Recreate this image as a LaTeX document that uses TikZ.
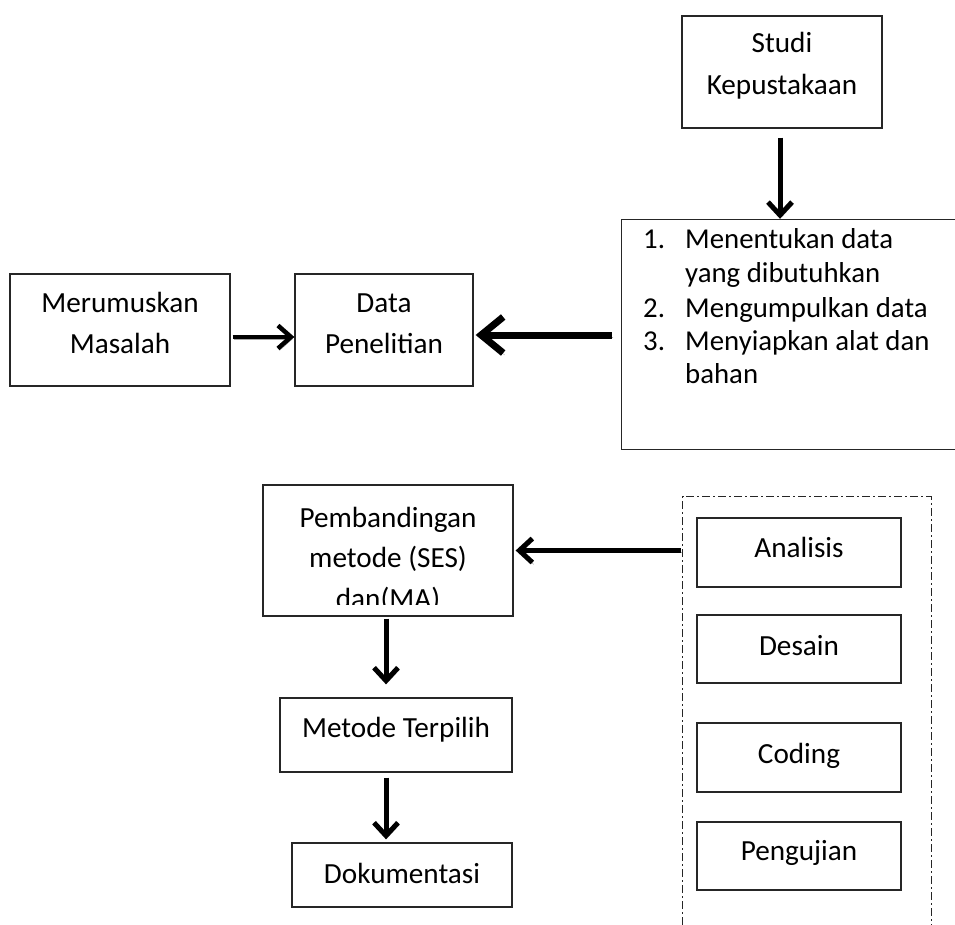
\documentclass[tikz,border=0pt]{standalone}
\usepackage{fontspec}
\setmainfont{Carlito}
\usetikzlibrary{arrows.meta}
\begin{document}
\begin{tikzpicture}[x=1pt,y=-1pt,
  box/.style={draw=black!85, line width=1.3pt, inner sep=0pt},
  boxline/.style={draw=black!85, line width=1.3pt},
  frameline/.style={draw=black!85, line width=1.2pt, dash pattern=on 8pt off 3pt on 2pt off 3pt},
  txt/.style={anchor=base, inner sep=0pt, font=\fontsize{29.2}{34}\selectfont},
  ltxt/.style={anchor=base west, inner sep=0pt, font=\fontsize{28.8}{34}\selectfont},
  shadowed/.style={preaction={draw=black!35, transform canvas={shift={(1.5pt,-2pt)}}}},
  arr/.style={line width=5pt, shadowed, -{Straight Barb[length=13pt,width=24pt]}},
  bigarr/.style={line width=7pt, shadowed, -{Straight Barb[length=22pt,width=36pt]}}
]
\useasboundingbox (0,0) rectangle (955,925);

% boxes
\node[box, minimum width=200, minimum height=112] (studi) at (782,72) {};
\node[box, minimum width=220, minimum height=112] (mm) at (120,330) {};
\node[box, minimum width=178, minimum height=112] (dp) at (384,330) {};
\node[inner sep=0pt, minimum width=333, minimum height=229] (list) at (788.5,334.5) {};
\draw[boxline] (list.north east) -- (list.north west) -- (list.south west) -- (list.south east);
\node[box, minimum width=250, minimum height=131] (pb) at (388,550.5) {};
\node[box, minimum width=232, minimum height=74] (mt) at (396,735) {};
\node[box, minimum width=220, minimum height=64] (dok) at (402,875) {};
\node[inner sep=0pt, minimum width=248, minimum height=428] (frame) at (807,711) {};
\draw[frameline] (frame.south west) -- (frame.north west) -- (frame.north east) -- (frame.south east);
\node[box, minimum width=204, minimum height=69] (an) at (799,552.5) {};
\node[box, minimum width=204, minimum height=68] (ds) at (799,649) {};
\node[box, minimum width=204, minimum height=69] (cd) at (799,757.5) {};
\node[box, minimum width=204, minimum height=68] (pg) at (799,856) {};

% texts
\node[txt] (studiA) at (782,53) {Studi};
\node[txt] (studiB) at (782,95) {Kepustakaan};
\node[txt] (mmA) at (120,312) {Merumuskan};
\node[txt] (mmB) at (120,353) {Masalah};
\node[txt] (dpA) at (384,312) {Data};
\node[txt] (dpB) at (384,353) {Penelitian};
\node[ltxt] (n1) at (643,249) {1.};
\node[ltxt] (l1) at (685,249) {Menentukan data};
\node[ltxt] (l1b) at (685,282) {yang dibutuhkan};
\node[ltxt] (n2) at (643,317) {2.};
\node[ltxt] (l2) at (685,317) {Mengumpulkan data};
\node[ltxt] (n3) at (643,350) {3.};
\node[ltxt] (l3) at (685,350) {Menyiapkan alat dan};
\node[ltxt] (l3b) at (685,383) {bahan};
\node[txt] (pbA) at (388,527) {Pembandingan};
\node[txt] (pbB) at (388,567) {metode (SES)};
\begin{scope}
  \clip (263,485) rectangle (513,604);
  \node[txt] (pbC) at (388,608) {dan(MA)};
\end{scope}
\node[txt] (mtA) at (396,737) {Metode Terpilih};
\node[txt] (dokA) at (402,883) {Dokumentasi};
\node[txt] (anA) at (799,557) {Analisis};
\node[txt] (dsA) at (799,655) {Desain};
\node[txt] (cdA) at (799,763) {Coding};
\node[txt] (pgA) at (799,860) {Pengujian};

% connectors
\draw[arr] ([xshift=-2pt,yshift=-9pt]studi.south) -- ([xshift=-2pt,yshift=1pt]studi.south |- list.north);
\draw[arr, line width=4.5pt, -{Straight Barb[length=13pt,width=23pt]}] ([yshift=-7pt,xshift=2pt]mm.east) -- ([yshift=-7pt]dp.west);
\draw[bigarr] ([yshift=-5pt,xshift=-10pt]dp.east -| list.west) -- ([yshift=-5pt,xshift=2pt]dp.east);
\draw[arr] ([xshift=-2pt]pb.east -| frame.west) -- ([xshift=2pt]pb.east);
\draw[arr] ([xshift=-2pt,yshift=-2pt]pb.south) -- ([xshift=-2pt,yshift=13pt]pb.south |- mt.north);
\draw[arr] ([xshift=-10pt,yshift=-5pt]mt.south) -- ([xshift=-10pt,yshift=3pt]mt.south |- dok.north);
\end{tikzpicture}
\end{document}
